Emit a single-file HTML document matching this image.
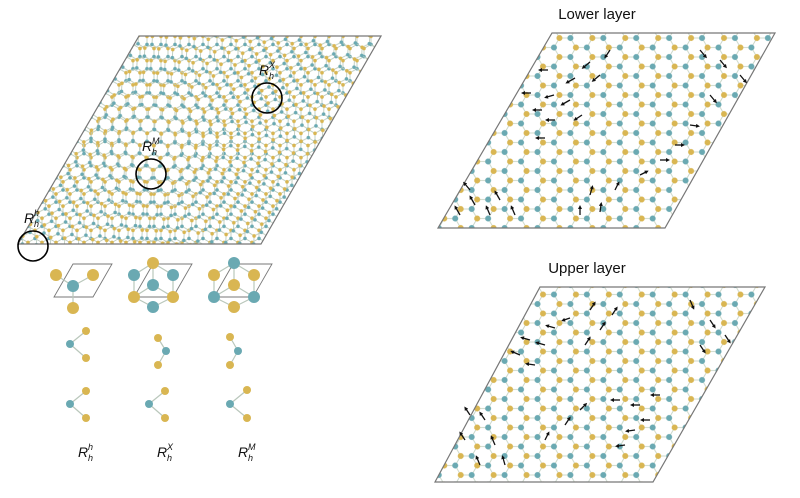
<!DOCTYPE html>
<html><head><meta charset="utf-8"><style>
html,body{margin:0;padding:0;background:#fff;}
svg{display:block;}
text{font-family:"Liberation Sans",Arial,sans-serif;}
</style></head><body>
<svg width="800" height="498" viewBox="0 0 800 498" xmlns="http://www.w3.org/2000/svg">
<defs>
  <pattern id="hexS" patternUnits="userSpaceOnUse" width="14" height="24.249" x="0" y="0">
    <g stroke="#bccbbd" stroke-width="0.9">
      <line x1="0" y1="0" x2="0" y2="8.083"/>
      <line x1="0" y1="8.083" x2="7" y2="12.124"/>
      <line x1="14" y1="8.083" x2="7" y2="12.124"/>
      <line x1="7" y1="12.124" x2="7" y2="20.207"/>
      <line x1="7" y1="20.207" x2="0" y2="24.249"/>
      <line x1="7" y1="20.207" x2="14" y2="24.249"/>
      <line x1="14" y1="0" x2="14" y2="8.083"/>
    </g>
    <g fill="#d9b652">
      <circle cx="0" cy="0" r="1.8"/><circle cx="14" cy="0" r="1.8"/>
      <circle cx="0" cy="24.249" r="1.8"/><circle cx="14" cy="24.249" r="1.8"/>
      <circle cx="7" cy="12.124" r="1.8"/>
    </g>
    <g fill="#6aa9b2">
      <circle cx="0" cy="8.083" r="1.8"/><circle cx="14" cy="8.083" r="1.8"/>
      <circle cx="7" cy="20.207" r="1.8"/>
    </g>
  </pattern>
  <pattern id="hexS2" href="#hexS" patternTransform="rotate(3 150 140)"/>
  <pattern id="hexL" patternUnits="userSpaceOnUse" width="19" height="32.909" x="0" y="0" patternTransform="rotate(30)">
    <g stroke="#c6d3c4" stroke-width="0.9">
      <line x1="0" y1="0" x2="0" y2="10.97"/>
      <line x1="0" y1="10.97" x2="9.5" y2="16.454"/>
      <line x1="19" y1="10.97" x2="9.5" y2="16.454"/>
      <line x1="9.5" y1="16.454" x2="9.5" y2="27.424"/>
      <line x1="9.5" y1="27.424" x2="0" y2="32.909"/>
      <line x1="9.5" y1="27.424" x2="19" y2="32.909"/>
      <line x1="19" y1="0" x2="19" y2="10.97"/>
    </g>
    <g fill="#d9b652">
      <circle cx="0" cy="0" r="3"/><circle cx="19" cy="0" r="3"/>
      <circle cx="0" cy="32.909" r="3"/><circle cx="19" cy="32.909" r="3"/>
      <circle cx="9.5" cy="16.454" r="3"/>
    </g>
    <g fill="#6aa9b2">
      <circle cx="0" cy="10.97" r="3"/><circle cx="19" cy="10.97" r="3"/>
      <circle cx="9.5" cy="27.424" r="3"/>
    </g>
  </pattern>
  <marker id="ah" markerWidth="4" markerHeight="4" refX="1" refY="2" orient="auto" markerUnits="userSpaceOnUse">
    <path d="M0,0 L4,2 L0,4 z" fill="#111"/>
  </marker>
</defs>

<polygon points="139,36 381,36 261,244 18,244" fill="url(#hexS)"/>
<polygon points="139,36 381,36 261,244 18,244" fill="url(#hexS2)"/>
<polygon points="139,36 381,36 261,244 18,244" fill="none" stroke="#777" stroke-width="1.2"/>
<g fill="none" stroke="#000" stroke-width="1.6">
  <circle cx="33" cy="246" r="15"/>
  <circle cx="151" cy="174" r="15"/>
  <circle cx="267" cy="98" r="15"/>
</g>
<g font-style="italic" font-size="14" fill="#111">
  <text x="24" y="223">R</text><text x="34" y="227" font-size="9">h</text><text x="34" y="216" font-size="9">h</text>
  <text x="142" y="151">R</text><text x="152" y="155" font-size="9">h</text><text x="152" y="144" font-size="9">M</text>
  <text x="259" y="75">R</text><text x="269" y="79" font-size="9">h</text><text x="269" y="68" font-size="9">X</text>
</g>

<g fill="none" stroke="#777" stroke-width="0.9">
  <polygon points="73,264 112,264 93,297 54,297"/>
  <polygon points="153,264 192,264 173,297 134,297"/>
  <polygon points="233,264 272,264 253,297 214,297"/>
</g>
<g stroke="#b9c7bb" stroke-width="1.2">
  <line x1="56" y1="275" x2="73" y2="286"/><line x1="93" y1="275" x2="73" y2="286"/><line x1="73" y1="308" x2="73" y2="286"/>
  <line x1="153" y1="263" x2="134" y2="275"/><line x1="153" y1="263" x2="173" y2="275"/>
  <line x1="134" y1="275" x2="134" y2="297"/><line x1="173" y1="275" x2="173" y2="297"/>
  <line x1="153" y1="285" x2="134" y2="297"/><line x1="153" y1="285" x2="173" y2="297"/><line x1="153" y1="285" x2="153" y2="263"/>
  <line x1="134" y1="297" x2="153" y2="307"/><line x1="173" y1="297" x2="153" y2="307"/>
  <line x1="234" y1="263" x2="214" y2="275"/><line x1="234" y1="263" x2="254" y2="275"/>
  <line x1="214" y1="275" x2="214" y2="297"/><line x1="254" y1="275" x2="254" y2="297"/>
  <line x1="234" y1="285" x2="214" y2="297"/><line x1="234" y1="285" x2="254" y2="297"/><line x1="234" y1="285" x2="234" y2="263"/>
  <line x1="214" y1="297" x2="234" y2="307"/><line x1="254" y1="297" x2="234" y2="307"/>
  <line x1="86" y1="331" x2="70" y2="344"/><line x1="86" y1="358" x2="70" y2="344"/>
  <line x1="158" y1="338" x2="166" y2="351"/><line x1="158" y1="365" x2="166" y2="351"/>
  <line x1="230" y1="337" x2="238" y2="351"/><line x1="230" y1="365" x2="238" y2="351"/>
  <line x1="86" y1="391" x2="70" y2="404"/><line x1="86" y1="418" x2="70" y2="404"/>
  <line x1="165" y1="391" x2="149" y2="404"/><line x1="165" y1="418" x2="149" y2="404"/>
  <line x1="247" y1="390" x2="230" y2="404"/><line x1="247" y1="418" x2="230" y2="404"/>
</g>
<g fill="#d9b652">
  <circle cx="56" cy="275" r="6"/><circle cx="93" cy="275" r="6"/><circle cx="73" cy="308" r="6"/>
  <circle cx="153" cy="263" r="6"/><circle cx="134" cy="297" r="6"/><circle cx="173" cy="297" r="6"/>
  <circle cx="214" cy="275" r="6"/><circle cx="254" cy="275" r="6"/><circle cx="234" cy="285" r="6"/><circle cx="234" cy="307" r="6"/>
  <circle cx="86" cy="331" r="4"/><circle cx="86" cy="358" r="4"/>
  <circle cx="158" cy="338" r="4"/><circle cx="158" cy="365" r="4"/>
  <circle cx="230" cy="337" r="4"/><circle cx="230" cy="365" r="4"/>
  <circle cx="86" cy="391" r="4"/><circle cx="86" cy="418" r="4"/>
  <circle cx="165" cy="391" r="4"/><circle cx="165" cy="418" r="4"/>
  <circle cx="247" cy="390" r="4"/><circle cx="247" cy="418" r="4"/>
</g>
<g fill="#6aa9b2">
  <circle cx="73" cy="286" r="6"/>
  <circle cx="134" cy="275" r="6"/><circle cx="173" cy="275" r="6"/><circle cx="153" cy="285" r="6"/><circle cx="153" cy="307" r="6"/>
  <circle cx="234" cy="263" r="6"/><circle cx="214" cy="297" r="6"/><circle cx="254" cy="297" r="6"/>
  <circle cx="70" cy="344" r="4"/><circle cx="166" cy="351" r="4"/><circle cx="238" cy="351" r="4"/>
  <circle cx="70" cy="404" r="4"/><circle cx="149" cy="404" r="4"/><circle cx="230" cy="404" r="4"/>
</g>
<g font-style="italic" font-size="14" fill="#111">
  <text x="78" y="457">R</text><text x="88" y="461" font-size="9">h</text><text x="88" y="450" font-size="9">h</text>
  <text x="157" y="457">R</text><text x="167" y="461" font-size="9">h</text><text x="167" y="450" font-size="9">X</text>
  <text x="238" y="457">R</text><text x="248" y="461" font-size="9">h</text><text x="248" y="450" font-size="9">M</text>
</g>

<text x="597" y="19" font-size="15" text-anchor="middle" fill="#111">Lower layer</text>
<polygon points="552,33 775,33 665,228 438,228" fill="url(#hexL)"/>
<polygon points="552,33 775,33 665,228 438,228" fill="none" stroke="#777" stroke-width="1.2"/>
<g stroke="#111" stroke-width="1.3" marker-end="url(#ah)">
  <line x1="548" y1="70" x2="541" y2="70"/><line x1="531" y1="93" x2="524" y2="93"/>
  <line x1="554" y1="95" x2="547" y2="97"/><line x1="542" y1="110" x2="535" y2="110"/>
  <line x1="555" y1="120" x2="548" y2="120"/><line x1="545" y1="138" x2="538" y2="138"/>
  <line x1="575" y1="78" x2="568" y2="82"/><line x1="590" y1="62" x2="584" y2="67"/>
  <line x1="570" y1="100" x2="563" y2="104"/><line x1="600" y1="75" x2="594" y2="80"/>
  <line x1="610" y1="50" x2="606" y2="56"/><line x1="582" y1="115" x2="576" y2="119"/>
  <line x1="460" y1="215" x2="456" y2="208"/><line x1="475" y1="205" x2="471" y2="198"/>
  <line x1="490" y1="215" x2="487" y2="208"/><line x1="500" y1="200" x2="496" y2="193"/>
  <line x1="515" y1="215" x2="512" y2="208"/><line x1="470" y1="190" x2="465" y2="184"/>
  <line x1="580" y1="215" x2="580" y2="208"/><line x1="600" y1="212" x2="601" y2="205"/>
  <line x1="590" y1="195" x2="592" y2="188"/><line x1="615" y1="190" x2="618" y2="184"/>
  <line x1="640" y1="175" x2="646" y2="172"/><line x1="660" y1="160" x2="667" y2="160"/>
  <line x1="675" y1="145" x2="682" y2="145"/><line x1="690" y1="125" x2="697" y2="126"/>
  <line x1="700" y1="50" x2="705" y2="56"/><line x1="720" y1="60" x2="725" y2="66"/>
  <line x1="740" y1="75" x2="745" y2="81"/><line x1="710" y1="95" x2="715" y2="101"/>
</g>

<text x="587" y="273" font-size="15" text-anchor="middle" fill="#111">Upper layer</text>
<polygon points="540,287 765,287 653,482 435,482" fill="url(#hexL)"/>
<polygon points="540,287 765,287 653,482 435,482" fill="none" stroke="#777" stroke-width="1.2"/>
<g stroke="#111" stroke-width="1.3" marker-end="url(#ah)">
  <line x1="530" y1="340" x2="523" y2="338"/><line x1="520" y1="355" x2="513" y2="352"/>
  <line x1="545" y1="345" x2="538" y2="343"/><line x1="535" y1="365" x2="528" y2="364"/>
  <line x1="555" y1="328" x2="548" y2="326"/><line x1="570" y1="318" x2="564" y2="320"/>
  <line x1="590" y1="310" x2="594" y2="304"/><line x1="600" y1="330" x2="604" y2="324"/>
  <line x1="612" y1="315" x2="616" y2="309"/><line x1="585" y1="345" x2="589" y2="339"/>
  <line x1="620" y1="400" x2="613" y2="400"/><line x1="640" y1="405" x2="633" y2="405"/>
  <line x1="650" y1="420" x2="643" y2="420"/><line x1="660" y1="395" x2="653" y2="395"/>
  <line x1="635" y1="430" x2="628" y2="431"/><line x1="625" y1="445" x2="618" y2="446"/>
  <line x1="470" y1="415" x2="466" y2="409"/><line x1="485" y1="420" x2="481" y2="414"/>
  <line x1="465" y1="440" x2="461" y2="434"/><line x1="495" y1="445" x2="492" y2="438"/>
  <line x1="505" y1="465" x2="503" y2="458"/><line x1="480" y1="465" x2="477" y2="458"/>
  <line x1="545" y1="440" x2="548" y2="434"/><line x1="565" y1="425" x2="569" y2="419"/>
  <line x1="580" y1="410" x2="585" y2="405"/>
  <line x1="690" y1="300" x2="693" y2="307"/><line x1="710" y1="320" x2="714" y2="326"/>
  <line x1="725" y1="335" x2="729" y2="341"/><line x1="700" y1="345" x2="704" y2="351"/>
</g>
</svg>
</body></html>
